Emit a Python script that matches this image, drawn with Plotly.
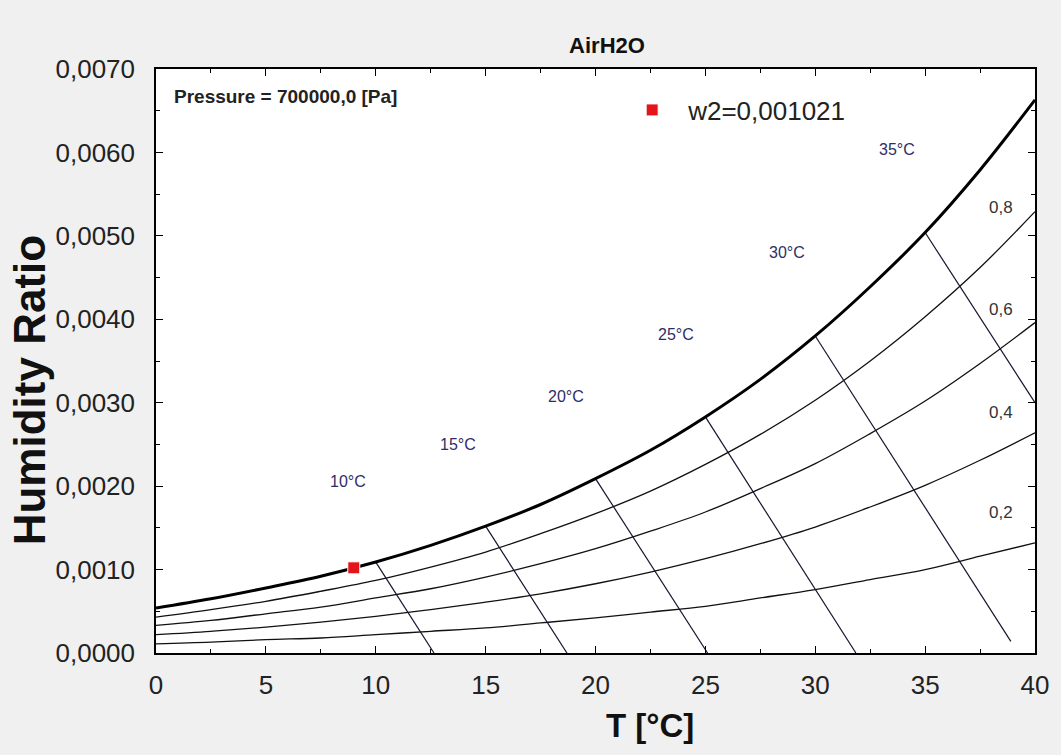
import plotly.graph_objects as go

# ---- data ----
T_grid = [0, 2.5, 5, 7.5, 10, 12.5, 15, 17.5, 20, 22.5, 25, 27.5, 30, 32.5, 35, 37.5, 40]
w_sat = [0.00054, 0.00065, 0.00078, 0.00092, 0.00109, 0.00129, 0.00152, 0.00178, 0.00209,
         0.00243, 0.00283, 0.00328, 0.00380, 0.00439, 0.00504, 0.00579, 0.00663]
w_rh80 = [0.00043, 0.00052, 0.00062, 0.00074, 0.00087, 0.00103, 0.00121, 0.00143, 0.00167,
          0.00194, 0.00226, 0.00262, 0.00303, 0.00350, 0.00403, 0.00462, 0.00529]
w_rh60 = [0.00033, 0.00039, 0.00047, 0.00055, 0.00066, 0.00077, 0.00091, 0.00107, 0.00125,
          0.00146, 0.00169, 0.00197, 0.00227, 0.00263, 0.00302, 0.00347, 0.00396]
w_rh40 = [0.00022, 0.00026, 0.00031, 0.00037, 0.00044, 0.00052, 0.00061, 0.00071, 0.00083,
          0.00097, 0.00113, 0.00131, 0.00151, 0.00175, 0.00201, 0.00231, 0.00264]
w_rh20 = [0.00011, 0.00013, 0.00016, 0.00018, 0.00022, 0.00026, 0.00030, 0.00036, 0.00042,
          0.00049, 0.00056, 0.00066, 0.00076, 0.00088, 0.00100, 0.00116, 0.00132]

# wet-bulb lines: start on saturation, end on axis / frame
twb_labels = ["10°C", "15°C", "20°C", "25°C", "30°C", "35°C"]
twb_T_start = [10, 15, 20, 25, 30, 35]
twb_w_start = [0.00109, 0.00152, 0.00209, 0.00283, 0.00380, 0.00504]
twb_T_end = [12.65, 18.7, 25.1, 31.85, 38.9, 40.0]
twb_w_end = [0.0, 0.0, 0.0, 0.0, 0.00014, 0.00300]

rh_labels = ["0,8", "0,6", "0,4", "0,2"]

state_T = [9.0]
state_w = [0.001021]
state_name = "w2=0,001021"

x_ticks = [0, 5, 10, 15, 20, 25, 30, 35, 40]
y_ticks = [0.0, 0.001, 0.002, 0.003, 0.004, 0.005, 0.006, 0.007]

# label placement (positions in data units)
twb_label_pos = [(8.73, 0.00205), (13.73, 0.00250), (18.68, 0.00307),
                 (23.68, 0.00382), (28.73, 0.00480), (33.73, 0.00604)]
rh_label_pos = [(38.45, 0.00534), (38.45, 0.00412), (38.45, 0.00288), (38.45, 0.00168)]

FONT = "Arial, Liberation Sans, sans-serif"

fig = go.Figure()

for wl in [w_rh20, w_rh40, w_rh60, w_rh80]:
    fig.add_trace(go.Scatter(x=T_grid, y=wl, mode="lines",
                             line=dict(color="#111111", width=1.3, shape="spline", smoothing=1),
                             showlegend=False, hoverinfo="skip"))

for i in range(len(twb_T_start)):
    fig.add_trace(go.Scatter(x=[twb_T_start[i], twb_T_end[i]], y=[twb_w_start[i], twb_w_end[i]],
                             mode="lines", line=dict(color="#15152e", width=1.2),
                             showlegend=False, hoverinfo="skip"))

fig.add_trace(go.Scatter(x=T_grid, y=w_sat, mode="lines",
                         line=dict(color="black", width=3, shape="spline", smoothing=1),
                         showlegend=False, hoverinfo="skip"))

fig.add_trace(go.Scatter(x=state_T, y=state_w, mode="markers", name=state_name,
                         marker=dict(symbol="square", size=12, color="#e5141b",
                                     line=dict(color="white", width=1)),
                         showlegend=True))

pw = 1061 - 156 - 24
ph = 755 - 69 - 102

annotations = []
for (x, y), t in zip(twb_label_pos, twb_labels):
    annotations.append(dict(x=x, y=y, xref="x", yref="y", text=t, showarrow=False,
                            font=dict(family=FONT, size=16, color="#2e2e66")))
for (x, y), t in zip(rh_label_pos, rh_labels):
    annotations.append(dict(x=x, y=y, xref="x", yref="y", text=t, showarrow=False,
                            font=dict(family=FONT, size=17, color="#333333")))
annotations.append(dict(x=0.73, y=0.00667, xref="x", yref="y", xanchor="left",
                        text="<b>Pressure = 700000,0 [Pa]</b>", showarrow=False,
                        font=dict(family=FONT, size=19, color="#222222")))
annotations.append(dict(x=(651 - 156) / pw, y=(653 - 725) / ph, xref="paper", yref="paper",
                        xanchor="center", yanchor="middle", text="<b>T [°C]</b>",
                        showarrow=False, font=dict(family=FONT, size=33, color="#111111")))
annotations.append(dict(x=(30 - 156) / pw, y=(653 - 390) / ph, xref="paper", yref="paper",
                        xanchor="center", yanchor="middle", text="<b>Humidity Ratio</b>",
                        textangle=-90, showarrow=False,
                        font=dict(family=FONT, size=44, color="#111111")))

fig.update_layout(
    width=1061, height=755,
    margin=dict(l=156, r=24, t=69, b=102),
    paper_bgcolor="#f0f0f0", plot_bgcolor="white",
    separators=",.",
    title=dict(text="<b>AirH2O</b>", x=607 / 1061, y=1 - 45 / 755, xref="container", yref="container",
               xanchor="center", yanchor="middle",
               font=dict(family=FONT, size=22, color="#111111")),
    showlegend=True,
    legend=dict(x=0.5235, y=0.97, xanchor="left", yanchor="top", bgcolor="rgba(0,0,0,0)",
                font=dict(family=FONT, size=26, color="#222222"), itemsizing="trace",
                itemwidth=62),
    annotations=annotations,
)

fig.update_xaxes(range=[0, 40], tickvals=x_ticks, ticks="inside", ticklen=7, tickwidth=1.2,
                 tickcolor="black", showline=True, linecolor="black", linewidth=1.5,
                 mirror="ticks", showgrid=False, zeroline=False, ticklabelstandoff=8,
                 tickfont=dict(family=FONT, size=26, color="#222222"),
                 minor=dict(ticks="inside", ticklen=4, dtick=2.5, tickcolor="black", showgrid=False))
fig.update_yaxes(range=[0, 0.007], tickvals=y_ticks, tickformat=".4f", ticks="inside", ticklen=7,
                 tickwidth=1.2, tickcolor="black", showline=True, linecolor="black", linewidth=1.5,
                 mirror="ticks", showgrid=False, zeroline=False, ticklabelstandoff=14,
                 tickfont=dict(family=FONT, size=26, color="#222222"),
                 minor=dict(ticks="inside", ticklen=4, dtick=0.0005, tickcolor="black", showgrid=False))

fig.write_html("out.html")
